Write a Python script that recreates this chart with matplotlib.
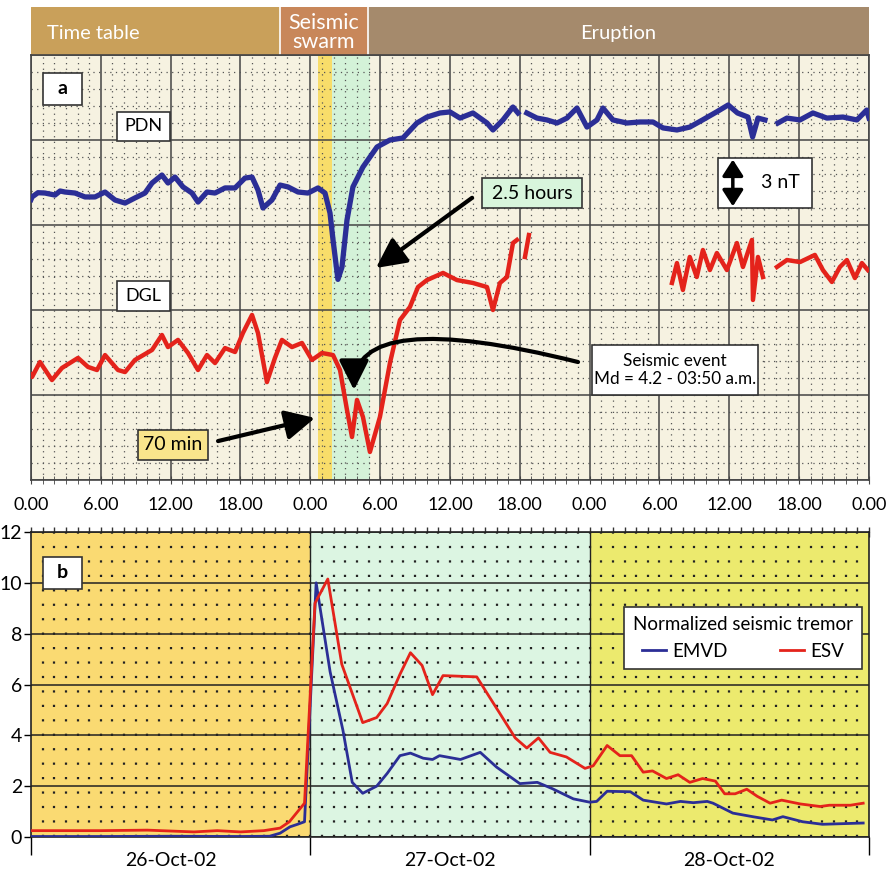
import matplotlib
matplotlib.use("Agg")
import matplotlib.pyplot as plt
from matplotlib.patches import FancyArrowPatch, Rectangle
from matplotlib.ticker import MultipleLocator

plt.rcParams['font.family'] = ['Lato', 'DejaVu Sans']

nan = float('nan')

# Time table header (hours from 26-Oct 00:00)
PHASE_NAMES = ["Time table", "Seismic\nswarm", "Eruption"]
PHASE_START = [0, 21.4, 28.95]
PHASE_END = [21.4, 28.95, 72]
PHASE_COLORS = ["#C9A05A", "#C8875A", "#A58A6C"]

# shaded intervals in panel a
BAND_70MIN = (24.7, 25.9)
BAND_2H5 = (25.9, 29.1)

# panel a: magnetic field traces (hour, nT, arbitrary offset)
pdn = [(0.0, 16.5), (0.09, 16.65), (0.6, 16.9), (1.2, 16.88), (2.06, 16.76), (2.5, 17.0),
       (2.92, 16.94), (3.78, 16.88), (4.64, 16.65), (5.5, 16.65), (6.36, 16.94), (7.22, 16.47),
       (8.08, 16.29), (8.93, 16.59), (9.79, 16.88), (10.4, 17.47), (11.25, 17.94), (11.77, 17.47),
       (12.37, 17.82), (13.06, 17.24), (13.83, 16.88), (14.35, 16.35), (15.12, 16.94), (15.81, 16.88),
       (16.67, 17.18), (17.53, 17.18), (18.38, 17.76), (18.99, 17.82), (19.5, 17.06), (19.93, 16.0),
       (20.7, 16.47), (21.4, 17.35), (22.08, 17.24), (22.94, 16.94), (23.8, 16.88), (24.66, 17.18),
       (25.26, 16.88), (25.69, 15.7), (25.95, 14.12), (26.37, 11.8), (26.72, 12.53), (27.15, 15.29),
       (27.66, 17.24), (28.52, 18.41), (29.73, 19.59), (30.84, 20.0), (31.96, 20.12), (33.16, 21.0),
       (34.02, 21.35), (35.14, 21.59), (36.0, 21.65), (36.86, 21.29), (37.97, 21.59), (39.18, 21.0),
       (39.69, 20.59), (40.55, 21.18), (41.41, 21.94), (41.84, 21.59), (42.1, nan), (42.6, 21.59),
       (43.47, 21.29), (44.33, 21.18), (45.19, 21.0), (46.05, 21.29), (46.91, 21.88), (47.77, 20.76),
       (48.63, 21.18), (49.14, 21.88), (50.0, 21.18), (51.2, 21.0), (52.32, 21.06), (53.44, 21.06),
       (54.3, 20.71), (55.5, 20.59), (56.6, 20.76), (57.7, 21.18), (58.9, 21.65), (59.9, 22.06),
       (60.7, 21.59), (61.6, 21.35), (62.0, 20.18), (62.46, 21.29), (63.06, 21.18), (63.6, nan),
       (64.18, 21.0), (64.95, 21.29), (66.07, 21.18), (67.18, 21.59), (68.38, 21.29), (69.76, 21.35),
       (70.96, 21.18), (71.8, 21.76), (72.0, 21.29)]

dgl = [(0.0, 6.2), (0.09, 6.06), (0.77, 6.94), (1.8, 5.88), (2.66, 6.59), (4.04, 7.18),
       (4.9, 6.65), (5.67, 6.47), (6.36, 7.35), (7.47, 6.47), (8.08, 6.35), (8.93, 7.06),
       (10.4, 7.65), (11.25, 8.53), (11.77, 7.82), (12.63, 8.24), (13.49, 7.47), (14.35, 6.47),
       (15.12, 7.35), (15.81, 6.88), (16.67, 7.76), (17.53, 7.53), (18.21, 8.65), (18.99, 9.71),
       (19.5, 8.65), (20.27, 5.76), (20.96, 7.18), (21.56, 8.24), (22.42, 7.82), (23.28, 8.06),
       (24.14, 7.06), (25.0, 7.47), (25.95, 7.35), (26.55, 6.47), (27.15, 4.12), (27.58, 2.53),
       (28.01, 4.71), (28.52, 3.71), (29.12, 1.65), (29.98, 3.71), (30.84, 6.88), (31.7, 9.41),
       (32.56, 10.18), (33.25, 11.35), (34.02, 11.76), (35.4, 12.18), (36.6, 11.76), (37.97, 11.59),
       (39.18, 11.35), (39.69, 10.0), (40.29, 11.59), (40.89, 11.94), (41.41, 13.94), (41.75, 14.12),
       (42.1, nan), (42.44, 13.12), (42.78, 14.41), (43.0, nan),
       (55.07, 11.59), (55.5, 12.76), (56.01, 11.18), (56.6, 13.12), (57.2, 11.94), (57.73, 13.53),
       (58.33, 12.35), (58.93, 13.35), (59.79, 12.35), (60.65, 13.94), (61.17, 12.53), (61.94, 14.12),
       (62.03, 10.59), (62.46, 13.12), (62.89, 11.94), (63.5, nan), (64.09, 12.53), (64.95, 12.94),
       (66.07, 12.82), (67.35, 13.24), (68.04, 12.35), (68.81, 11.65), (69.5, 12.53), (70.1, 12.94),
       (70.79, 11.88), (71.39, 12.76), (71.9, 12.35)]

hour_tick_labels = ["0.00", "6.00", "12.00", "18.00"] * 3 + ["0.00"]

# panel b: normalized seismic tremor (hour, value)
emvd = [(0, 0.02), (6, 0.02), (12, 0.03), (18, 0.02), (20.5, 0.03), (21.4, 0.15), (22.25, 0.4),
        (22.9, 0.5), (23.5, 0.6), (24.5, 10.0), (25.7, 6.5), (26.8, 4.2), (27.6, 2.15), (28.5, 1.72),
        (29.7, 2.0), (30.6, 2.5), (31.7, 3.2), (32.6, 3.3), (33.7, 3.1), (34.5, 3.05), (35.1, 3.2),
        (36.9, 3.05), (38.6, 3.33), (40.0, 2.75), (42.0, 2.1), (43.5, 2.15), (44.8, 1.9), (46.6, 1.5),
        (48.0, 1.37), (48.6, 1.4), (49.5, 1.8), (51.5, 1.78), (52.6, 1.45), (54.6, 1.3), (55.8, 1.4),
        (56.9, 1.35), (58.1, 1.4), (58.6, 1.33), (60.3, 0.94), (62.0, 0.8), (63.7, 0.67), (64.6, 0.8),
        (66.3, 0.6), (68.0, 0.5), (71.5, 0.55)]

esv = [(0, 0.25), (6, 0.25), (10, 0.27), (14, 0.2), (16, 0.25), (18, 0.2), (20, 0.25), (21.4, 0.35),
       (22.2, 0.6), (23.5, 1.33), (24.4, 9.2), (25.5, 10.15), (26.7, 6.8), (28.5, 4.5), (29.7, 4.7),
       (30.6, 5.25), (31.7, 6.4), (32.6, 7.25), (33.6, 6.75), (34.5, 5.6), (35.4, 6.35), (38.3, 6.3),
       (39.4, 5.5), (40.3, 4.85), (41.6, 3.9), (42.6, 3.5), (43.6, 3.9), (44.6, 3.33), (46.0, 3.15),
       (47.6, 2.7), (48.3, 2.8), (49.5, 3.6), (50.6, 3.2), (51.6, 3.2), (52.6, 2.55), (53.4, 2.6),
       (54.6, 2.3), (55.6, 2.45), (56.6, 2.15), (57.7, 2.3), (58.8, 2.2), (59.6, 1.7), (60.5, 1.7),
       (61.5, 1.88), (62.4, 1.6), (63.5, 1.33), (64.5, 1.45), (66.1, 1.3), (67.8, 1.2), (68.6, 1.25),
       (70.4, 1.25), (71.5, 1.33)]

day_labels = ["26-Oct-02", "27-Oct-02", "28-Oct-02"]
DAY_COLORS = ["#FADA72", "#DCF5E2", "#ECEA6E"]

BLUE = "#2B2E96"
RED = "#E4231B"

W, H = 890, 877


def rect(x0, y0, x1, y1):
    # pixel box -> figure fraction
    return [x0 / W, 1 - y1 / H, (x1 - x0) / W, (y1 - y0) / H]


def label_box(ax, x0, x1, y0, y1, text, fc="white", **kw):
    ax.add_patch(Rectangle((x0, y0), x1 - x0, y1 - y0, facecolor=fc, edgecolor="#333333",
                           lw=1.2, zorder=5))
    ax.text((x0 + x1) / 2, (y0 + y1) / 2, text, ha="center", va="center", zorder=6, **kw)


def arrow(ax, a, b, **kw):
    style = kw.pop("arrowstyle", "-|>,head_length=0.9,head_width=0.45")
    p = FancyArrowPatch(a, b, arrowstyle=style, mutation_scale=kw.pop("ms", 20), color="black",
                        lw=kw.pop("lw", 3), shrinkA=0, shrinkB=0, zorder=7, **kw)
    ax.add_patch(p)


fig = plt.figure(figsize=(8.9, 8.77), dpi=100)

# header
ax_h = fig.add_axes(rect(31, 7, 869, 55))
for name, s, e, c in zip(PHASE_NAMES, PHASE_START, PHASE_END, PHASE_COLORS):
    ax_h.axvspan(s, e, color=c)
    if name == "Time table":
        ax_h.text(s + 1.4, 0.45, name, color="white", fontsize=14.5, ha="left", va="center")
    elif name == "Eruption":
        ax_h.text((s + e) / 2, 0.45, name, color="white", fontsize=14.5, ha="center", va="center")
    else:
        ax_h.text((s + e) / 2, 0.47, name, color="white", fontsize=15.5, ha="center", va="center",
                  linespacing=0.9)
for s in PHASE_START[1:]:
    ax_h.axvline(s, color="white", lw=1.2)
ax_h.set_xlim(0, 72)
ax_h.set_ylim(0, 1)
ax_h.axis("off")

# panel a
ax_a = fig.add_axes(rect(31, 55, 869, 480))
ax_a.set_facecolor("#F6F2E1")
ax_a.axvspan(*BAND_70MIN, color="#F8DD6A", zorder=0.5, lw=0)
ax_a.axvspan(*BAND_2H5, color="#D4F2D8", zorder=0.5, lw=0)
ax_a.set_xlim(0, 72)
ax_a.set_ylim(0, 25)
ax_a.xaxis.set_minor_locator(MultipleLocator(1))
ax_a.yaxis.set_major_locator(MultipleLocator(5))
ax_a.yaxis.set_minor_locator(MultipleLocator(1))
ax_a.set_xticks(range(0, 73, 6))
ax_a.set_xticklabels(hour_tick_labels, fontsize=13)
ax_a.grid(which="major", color="#444444", lw=1.1)
ax_a.grid(which="minor", color="#555555", lw=0.9, linestyle=(0, (1, 3.5)))
ax_a.tick_params(axis="x", which="both", direction="inout", length=6, color="#444444", pad=9)
ax_a.tick_params(axis="y", which="both", length=0, labelleft=False)
for sp in ax_a.spines.values():
    sp.set_color("#444444")
    sp.set_linewidth(1.2)

h, v = zip(*pdn)
ax_a.plot(h, v, color=BLUE, lw=3.8, zorder=3, solid_joinstyle="round")
h, v = zip(*dgl)
ax_a.plot(h, v, color=RED, lw=3.2, zorder=3, solid_joinstyle="round")

label_box(ax_a, 1.03, 4.38, 22.06, 23.94, "a", fontsize=14, fontweight="bold")
label_box(ax_a, 7.39, 11.94, 19.94, 21.65, "PDN", fontsize=13)
label_box(ax_a, 7.39, 11.94, 9.94, 11.71, "DGL", fontsize=13)
label_box(ax_a, 38.75, 47.34, 16.0, 17.76, "2.5 hours", fc="#D8F5DC", fontsize=14)
label_box(ax_a, 9.19, 15.2, 1.18, 2.94, "70 min", fc="#F9E58C", fontsize=14)
label_box(ax_a, 48.2, 62.46, 5.0, 7.94, "Seismic event\nMd = 4.2 - 03:50 a.m.", fontsize=12.3,
          linespacing=1.1)
ax_a.add_patch(Rectangle((59.02, 16.0), 8.08, 2.94, facecolor="white", edgecolor="#333333",
                         lw=1.2, zorder=5))
ax_a.text(64.4, 17.5, "3 nT", ha="center", va="center", fontsize=14, zorder=6)
arrow(ax_a, (60.3, 16.1), (60.3, 18.85), arrowstyle="<|-|>,head_length=0.7,head_width=0.45",
      ms=14, lw=2.5)

arrow(ax_a, (37.9, 16.6), (29.64, 12.47))
arrow(ax_a, (16.07, 2.29), (24.4, 3.65))
arrow(ax_a, (47.0, 6.94), (27.75, 5.29), connectionstyle="angle3,angleA=166,angleB=90")

# panel b
ax_b = fig.add_axes(rect(31, 532, 869, 837))
for i, c in enumerate(DAY_COLORS):
    ax_b.axvspan(24 * i, 24 * (i + 1), color=c, zorder=0.5, lw=0)
ax_b.vlines(range(1, 72), 0, 12, color="#222222", lw=1.6, linestyle=(0, (1, 5.5)), zorder=1)
ax_b.axvline(24, color="#222222", lw=1)
ax_b.axvline(48, color="#222222", lw=1)
ax_b.set_xlim(0, 72)
ax_b.set_ylim(0, 12)
ax_b.set_yticks(range(0, 13, 2))
ax_b.tick_params(axis="y", labelsize=14, direction="out", length=5, width=1, pad=1.5)
ax_b.yaxis.grid(True, color="#222222", lw=1.1)
ax_b.set_xticks([0, 24, 48, 72])
ax_b.set_xticklabels([])
ax_b.set_xticks([12, 36, 60], minor=True)
ax_b.set_xticklabels(day_labels, minor=True, fontsize=14)
ax_b.tick_params(axis="x", which="major", direction="out", length=13, width=1)
ax_b.tick_params(axis="x", which="minor", length=0, pad=11)
for sp in ax_b.spines.values():
    sp.set_color("#222222")
    sp.set_linewidth(1.2)

top = ax_b.secondary_xaxis("top")
top.set_xticks(range(0, 73))
top.set_xticklabels([])
top.tick_params(direction="inout", length=7, width=1, color="#333333")

h, v = zip(*emvd)
l1, = ax_b.plot(h, v, color=BLUE, lw=2.0, zorder=3, label="EMVD")
h, v = zip(*esv)
l2, = ax_b.plot(h, v, color=RED, lw=2.0, zorder=3, label="ESV")

label_box(ax_b, 1.03, 4.38, 9.76, 11.02, "b", fontsize=14, fontweight="bold")

leg = ax_b.legend(handles=[l1, l2], loc="upper right", bbox_to_anchor=(0.992, 0.754), ncol=2,
                  title="Normalized seismic tremor", fontsize=13.5, title_fontsize=13.5,
                  fancybox=False, edgecolor="#333333", framealpha=1, handlelength=1.3,
                  columnspacing=2.8, borderpad=0.5, borderaxespad=0, handletextpad=0.3,
                  alignment="center")
leg.get_frame().set_linewidth(1.2)
leg.set_zorder(8)

fig.savefig("out.png", dpi=100)
